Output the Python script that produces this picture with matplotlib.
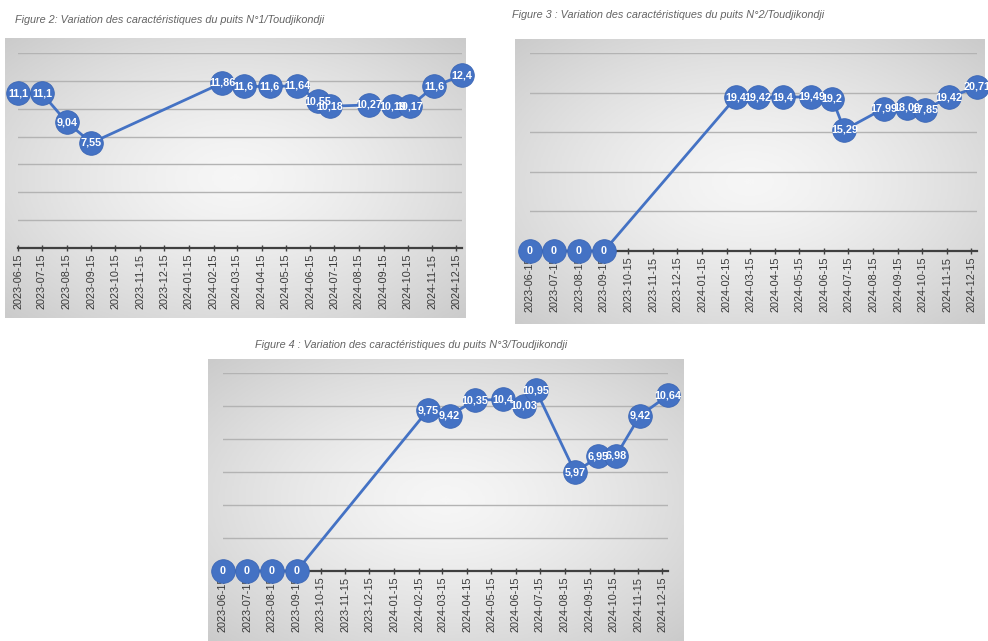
import numpy as np
import pandas as pd
import matplotlib
matplotlib.use("Agg")
import matplotlib.pyplot as plt
import matplotlib.dates as mdates
from matplotlib.colors import LinearSegmentedColormap

plt.rcParams['font.family'] = ['Liberation Sans', 'DejaVu Sans']

# measurement dates (same for the three wells)
dates = ['2023-06-15', '2023-07-15', '2023-08-15', '2023-09-15', '2024-02-26',
         '2024-03-24', '2024-04-25', '2024-05-30', '2024-06-25', '2024-07-10',
         '2024-08-28', '2024-09-26', '2024-10-18', '2024-11-17', '2024-12-22']

puits1 = [11.1, 11.1, 9.04, 7.55, 11.86, 11.6, 11.6, 11.64, 10.55, 10.18,
          10.27, 10.19, 10.17, 11.6, 12.4]
puits2 = [0, 0, 0, 0, 19.4, 19.42, 19.4, 19.49, 19.2, 15.29,
          17.99, 18.09, 17.85, 19.42, 20.71]
puits3 = [0, 0, 0, 0, 9.75, 9.42, 10.35, 10.4, 10.03, 10.95,
          5.97, 6.95, 6.98, 9.42, 10.64]

titres = ["Figure 2: Variation des caractéristiques du puits N°1/Toudjikondji",
          "Figure 3 : Variation des caractéristiques du puits N°2/Toudjikondji",
          "Figure 4 : Variation des caractéristiques du puits N°3/Toudjikondji"]

W, H = 988, 641
BLUE = '#4472C4'


def px_rect(l, t, r, b):
    return [l / W, 1 - b / H, (r - l) / W, (b - t) / H]


fig = plt.figure(figsize=(W / 100, H / 100), dpi=100)
fig.patch.set_facecolor('white')

# radial gray gradient like the excel chart area
gx, gy = np.meshgrid(np.linspace(-1, 1, 200), np.linspace(-1, 1, 200))
rad = np.clip(np.sqrt(gx ** 2 + gy ** 2) / np.sqrt(2), 0, 1) ** 1.4
grad_cmap = LinearSegmentedColormap.from_list('g', ['#f6f6f6', '#cbcbcb'])


def chart(box, plot, values, ymax, ystep, title, title_xy):
    bg = fig.add_axes(px_rect(*box))
    bg.imshow(rad, cmap=grad_cmap, extent=[0, 1, 0, 1], aspect='auto', vmin=0, vmax=1)
    bg.axis('off')

    ax = fig.add_axes(px_rect(*plot))
    ax.patch.set_alpha(0)
    d = pd.to_datetime(dates)
    ax.plot(d, values, color=BLUE, lw=2, marker='o', ms=17, mfc=BLUE,
            mec='#3b66b5', mew=0.6, clip_on=False, zorder=3)
    for xi, v in zip(d, values):
        ax.text(xi, v, f'{v:g}'.replace('.', ','), color='white', fontsize=7.8,
                family=['Liberation Sans Narrow', 'Liberation Sans'],
                fontweight='bold', ha='center', va='center', zorder=4, clip_on=False)

    ax.set_xlim(d[0], d[-1])
    ax.set_ylim(0, ymax)
    ax.set_yticks(np.arange(ystep, ymax + 0.1, ystep))
    ax.yaxis.grid(True, color='#b3b3b3', lw=1)
    ax.tick_params(axis='y', length=0, labelleft=False)
    ax.xaxis.set_major_locator(mdates.MonthLocator(bymonthday=15))
    ax.xaxis.set_major_formatter(mdates.DateFormatter('%Y-%m-%d'))
    ax.tick_params(axis='x', direction='inout', length=4, width=1, color='#404040',
                   labelsize=7.8, labelcolor='#383838', labelrotation=90, pad=2)
    for s in ['top', 'right', 'left']:
        ax.spines[s].set_visible(False)
    ax.spines['bottom'].set_color('#404040')
    ax.spines['bottom'].set_linewidth(1.6)
    ax.set_axisbelow(True)

    fig.text(title_xy[0] / W, 1 - title_xy[1] / H, title, fontsize=7.8, style='italic',
             color='#646464', ha='left', va='center')


chart((5, 38, 465, 318), (18, 53, 462, 248), puits1, 14, 2, titres[0], (15, 20))
chart((515, 39, 985, 324), (530, 53, 977, 251), puits2, 25, 5, titres[1], (512, 15))
chart((208, 359, 683, 641), (223, 373, 668, 571), puits3, 12, 2, titres[2], (255, 345))

fig.savefig('out.png', dpi=100)
